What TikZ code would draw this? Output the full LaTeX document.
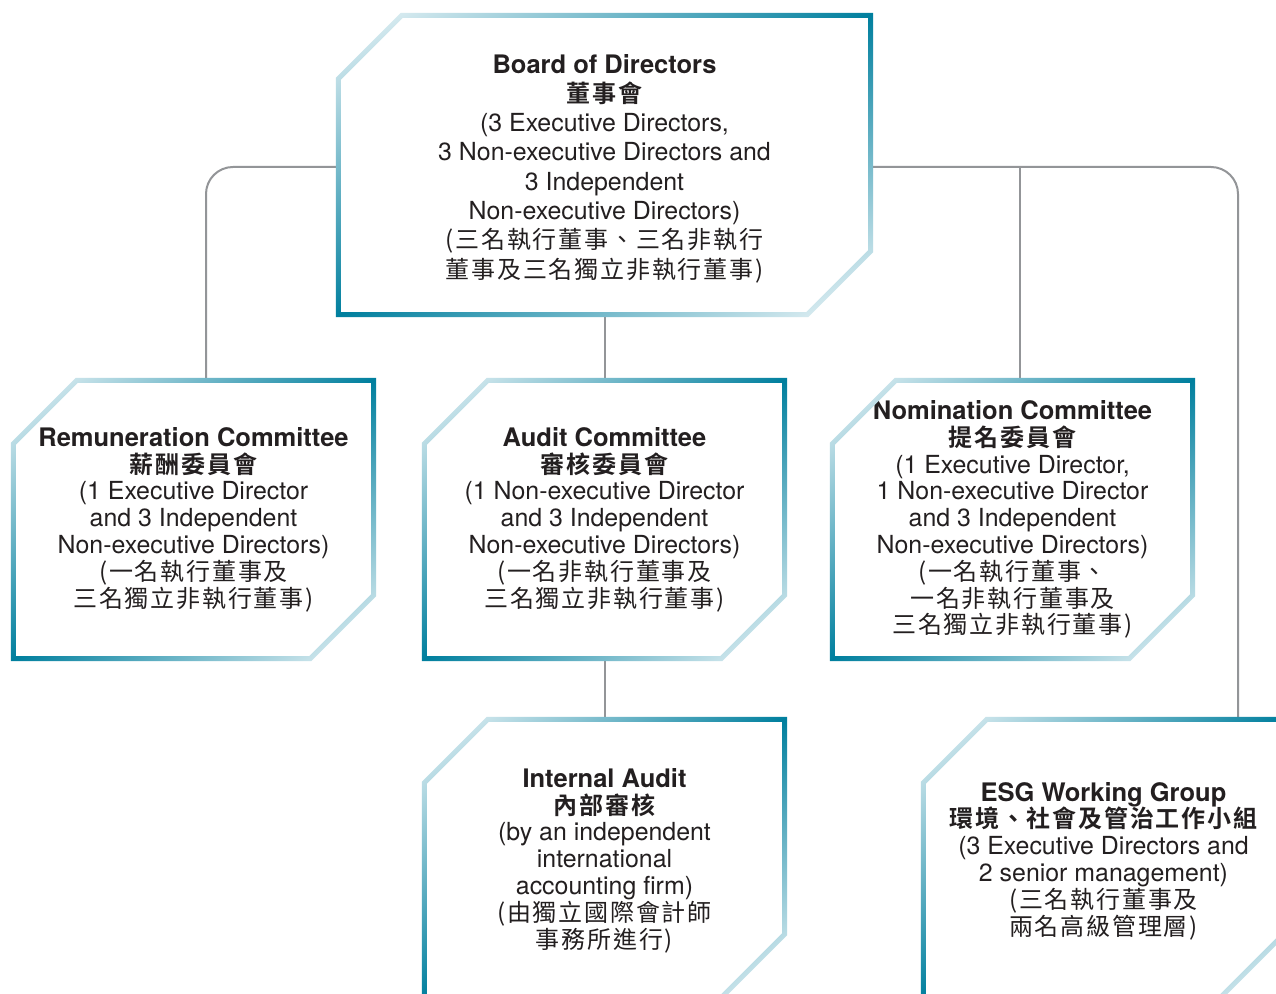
\documentclass[tikz,border=0pt]{standalone}
\usepackage{fontspec}
\setmainfont{TeX Gyre Heros}
\newfontfamily\cjk{Noto Sans CJK TC}[BoldFont={Noto Sans CJK TC Bold},LetterSpace=7.5]
\usetikzlibrary{calc}
\definecolor{fd}{RGB}{0,127,158}
\definecolor{fl}{RGB}{242,248,250}
\definecolor{txt}{RGB}{35,31,32}
\definecolor{connc}{RGB}{147,149,152}
\pgfdeclarehorizontalshading{frameshade}{100bp}{color(0bp)=(fl); color(25bp)=(fl); color(50bp)=(fd); color(75bp)=(fl); color(100bp)=(fl)}
\newcommand\octframe[3]{%
  \begin{scope}[even odd rule]
    \clip (#1.south west) -- ($(#1.north west)+(0pt,-65pt)$) -- ($(#1.north west)+(65pt,0pt)$) -- (#1.north east) -- ($(#1.south east)+(0pt,65pt)$) -- ($(#1.south east)+(-65pt,0pt)$) -- cycle
      ($(#1.south west)+(5pt,5pt)$) -- ($(#1.north west)+(5pt,-67.07pt)$) -- ($(#1.north west)+(67.07pt,-5pt)$) -- ($(#1.north east)+(-5pt,-5pt)$) -- ($(#1.south east)+(-5pt,67.07pt)$) -- ($(#1.south east)+(-67.07pt,5pt)$) -- cycle;
    \begin{scope}[transform canvas={rotate around={#2:(#1.center)}}]
      \shade[shading=frameshade] ($(#1.center)+(-#3pt,-500pt)$) rectangle ($(#1.center)+(#3pt,500pt)$);
    \end{scope}
  \end{scope}}
\tikzset{
  orgbox/.style={inner sep=0pt, align=center, text=txt, minimum width=365pt, minimum height=283pt, font=\fontsize{24.9}{26.8}\selectfont},
  boardbox/.style={orgbox, minimum width=537pt, minimum height=304pt, font=\fontsize{24.9}{29.3}\selectfont},
  conn/.style={draw=connc, line width=2pt, rounded corners=27pt},
}
\newcommand\ttl[1]{{\bfseries\fontsize{25.5}{26.8}\selectfont #1}}
\newcommand\cttl[1]{{\cjk\bfseries\fontsize{24}{26.8}\selectfont #1}}
\newcommand\ctx[1]{{\cjk\fontsize{24}{26.8}\selectfont #1}}
\begin{document}
\begin{tikzpicture}[x=1pt,y=1pt]
\useasboundingbox (0,0) rectangle (1276,993);
\fill[white] (0,0) rectangle (1276,993);

\node[boardbox] (board) at (604.5,828) {\rule{0pt}{26pt}\ttl{Board of Directors}\\ \cttl{董事會}\\ (3 Executive Directors,\\ 3 Non-executive Directors and\\ 3 Independent\\ Non-executive Directors)\\ \ctx{(三名執行董事、三名非執行}\\ \ctx{董事及三名獨立非執行董事)}};

\node[orgbox] (rem) at (193.5,473.5) {\ttl{Remuneration Committee}\\ \cttl{薪酬委員會}\\ (1 Executive Director\\ and 3 Independent\\ Non-executive Directors)\\ \ctx{(一名執行董事及}\\ \ctx{三名獨立非執行董事)}};

\node[orgbox] (audit) at (604.5,473.5) {\ttl{Audit Committee}\\ \cttl{審核委員會}\\ (1 Non-executive Director\\ and 3 Independent\\ Non-executive Directors)\\ \ctx{(一名非執行董事及}\\ \ctx{三名獨立非執行董事)}};

\node[orgbox] (nom) at (1012.5,473.5) {\ttl{Nomination Committee}\\ \cttl{提名委員會}\\ (1 Executive Director,\\ 1 Non-executive Director\\ and 3 Independent\\ Non-executive Directors)\\ \ctx{(一名執行董事、}\\ \ctx{一名非執行董事及}\\ \ctx{三名獨立非執行董事)}};

\node[orgbox] (ia) at (604.5,134.5) {\rule{0pt}{23pt}\ttl{Internal Audit}\\ \cttl{內部審核}\\ (by an independent\\ international\\ accounting firm)\\ \ctx{(由獨立國際會計師}\\ \ctx{事務所進行)}};

\node[orgbox] (esg) at (1103.5,134.5) {\rule{0pt}{24pt}\ttl{ESG Working Group}\\ \cttl{環境、社會及管治工作小組}\\ (3 Executive Directors and\\ 2 senior management)\\ \ctx{(三名執行董事及}\\ \ctx{兩名高級管理層)}};

\draw[conn] ($(board.west)+(0,-2)$) -| ($(rem.north)+(12.5,0)$);
\draw[conn] ($(board.east)+(0,-2)$) -| ($(esg.north)+(134.5,0)$);
\draw[conn, rounded corners=0pt] ($(nom.north)+(7.5,0)$) |- ($(board.east)+(0,-2)$);
\draw[conn] (board.south) -- (audit.north);
\draw[conn] (audit.south) -- (ia.north);

\octframe{board}{-60.49}{264.55}
\octframe{rem}{-52.22}{223.65}
\octframe{audit}{-52.22}{223.65}
\octframe{nom}{-52.22}{223.65}
\octframe{ia}{-52.22}{223.65}
\octframe{esg}{-52.22}{223.65}
\end{tikzpicture}
\end{document}
